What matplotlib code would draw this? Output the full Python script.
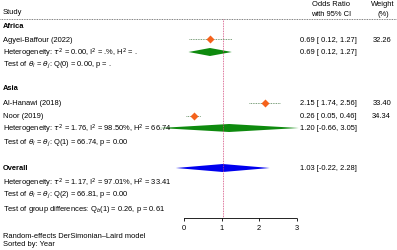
import matplotlib
matplotlib.use('Agg')
import matplotlib.pyplot as plt
from matplotlib.patches import Polygon

plt.rcParams['font.family'] = ['Liberation Sans', 'DejaVu Sans']

# study level data
studies = ['Agyei-Baffour (2022)', 'Al-Hanawi (2018)', 'Noor (2019)']
study_or = [0.69, 2.15, 0.26]
study_lo = [0.12, 1.74, 0.05]
study_hi = [1.27, 2.56, 0.46]
study_wt = [32.26, 33.40, 34.34]

# pooled estimates: Africa, Asia, Overall
pooled_names = ['Africa', 'Asia', 'Overall']
pooled_or = [0.69, 1.20, 1.03]
pooled_lo = [0.12, -0.66, -0.22]
pooled_hi = [1.27, 3.05, 2.28]

het_text = [r'Heterogeneity: $\tau^2$ = 0.00, I$^2$ = .%, H$^2$ = .',
            r'Heterogeneity: $\tau^2$ = 1.76, I$^2$ = 98.50%, H$^2$ = 66.74',
            r'Heterogeneity: $\tau^2$ = 1.17, I$^2$ = 97.01%, H$^2$ = 33.41']
test_text = [r'Test of $\theta_i$ = $\theta_j$: Q(0) = 0.00, p = .',
             r'Test of $\theta_i$ = $\theta_j$: Q(1) = 66.74, p = 0.00',
             r'Test of $\theta_i$ = $\theta_j$: Q(2) = 66.81, p = 0.00']
group_text = r'Test of group differences: Q$_b$(1) = 0.26, p = 0.61'
xticks = [0, 1, 2, 3]

# layout (row positions in pixels from top)
study_y = [40, 104, 117]
group_y = [27, 89, 169]
het_y = [53, 129, 183]
test_y = [65, 143, 195]

W, H = 397, 251
x0, scale = 184, 37.6
fig = plt.figure(figsize=(W / 100, H / 100), dpi=100)
ax = fig.add_axes([0, (H - 219) / H, 1, 219 / H])
ax.set_xlim(-x0 / scale, (W - x0) / scale)
ax.set_ylim(219, 0)
for s in ['top', 'left', 'right']:
    ax.spines[s].set_visible(False)
ax.spines['bottom'].set_bounds(0, 3)
ax.spines['bottom'].set_linestyle((0, (1, 1)))
ax.spines['bottom'].set_linewidth(0.6)
ax.set_yticks([])
ax.set_xticks(xticks)
ax.set_xticklabels([str(t) for t in xticks])
ax.tick_params(axis='x', labelsize=5.4, length=2.5, width=0.6, pad=2)

fs = 5.4
tx = ax.get_yaxis_transform()  # x in axes fraction, y in data
lx = 3 / W
esx = 300 / W
wx = 391 / W

# header
ax.text(lx, 13, 'Study', transform=tx, fontsize=fs, va='center')
ax.text(331 / W, 4, 'Odds Ratio', transform=tx, fontsize=fs, va='center', ha='center')
ax.text(331 / W, 14, 'with 95% CI', transform=tx, fontsize=fs, va='center', ha='center')
ax.text(383 / W, 4, 'Weight', transform=tx, fontsize=fs, va='center', ha='center')
ax.text(383 / W, 14, '(%)', transform=tx, fontsize=fs, va='center', ha='center')
ax.plot([0, 1], [20, 20], transform=tx, color='#555555', lw=0.6,
        ls=(0, (1, 1)), clip_on=False)

# reference line
ax.plot([pooled_or[2], pooled_or[2]], [20, 219], color='#d2457a', lw=0.6,
        ls=(0, (1, 1)))

# studies
for name, es, lo, hi, wt, y in zip(studies, study_or, study_lo, study_hi, study_wt, study_y):
    ax.plot([lo, hi], [y, y], color='#4f7f4f', lw=0.6, ls=(0, (1, 1)))
    ax.plot(es, y, marker='D', color='#f5621c', ms=3.9 * (wt / 33) ** 0.5,
            mec='none')
    ax.text(lx, y, name, transform=tx, fontsize=fs, va='center')
    ax.text(esx, y, f'{es:.2f} [ {lo:.2f}, {hi:.2f}]', transform=tx,
            fontsize=fs, va='center')
    ax.text(wx, y, f'{wt:.2f}', transform=tx, fontsize=fs, va='center', ha='right')

# pooled
colors = ['#0e8a0e', '#0e8a0e', '#0000ee']
for i in range(3):
    es, lo, hi = pooled_or[i], pooled_lo[i], pooled_hi[i]
    dy = het_y[i] if i < 2 else group_y[i]
    h = 4
    ax.add_patch(Polygon([(lo, dy), (es, dy - h), (hi, dy), (es, dy + h)],
                         closed=True, color=colors[i], lw=0, zorder=1))
    ax.text(lx, group_y[i], pooled_names[i], transform=tx, fontsize=fs,
            va='center', fontweight='bold')
    ax.text(lx, het_y[i], het_text[i], transform=tx, fontsize=fs, va='center',
            zorder=3)
    ax.text(lx, test_y[i], test_text[i], transform=tx, fontsize=fs, va='center')
    ax.text(esx, dy, f'{es:.2f} [{lo:.2f}, {hi:.2f}]'.replace('[0', '[ 0'),
            transform=tx, fontsize=fs, va='center')

ax.text(lx, 210, group_text, transform=tx, fontsize=fs, va='center', clip_on=False)
ax.text(lx, 237, 'Random-effects DerSimonian\u2013Laird model', transform=tx,
        fontsize=fs, va='center', clip_on=False)
ax.text(lx, 245, 'Sorted by: Year', transform=tx, fontsize=fs, va='center',
        clip_on=False)

fig.savefig('out.png', dpi=100)
